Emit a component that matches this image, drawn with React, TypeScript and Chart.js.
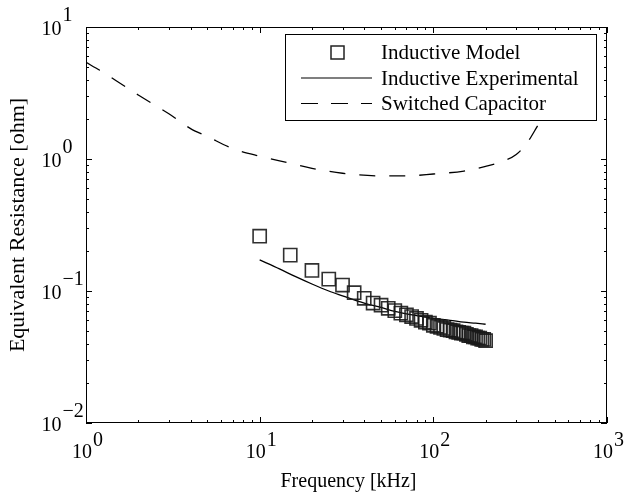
import React, { useEffect, useRef } from "react";
import { Chart, registerables } from "chart.js";

Chart.register(...registerables);

// Inductive Model (squares)
const modelFreq = [10, 15, 20, 25, 30, 35, 40, 45, 50, 55, 60, 65, 70, 75, 80, 85, 90, 95, 100, 105, 110, 115, 120, 125, 130, 135, 140, 145, 150, 155, 160, 165, 170, 175, 180, 185, 190, 195, 200];
const modelRes = [0.26, 0.187, 0.143, 0.123, 0.111, 0.097, 0.088, 0.081, 0.078, 0.074, 0.071, 0.068, 0.066, 0.064, 0.062, 0.060, 0.058, 0.057, 0.055, 0.054, 0.053, 0.052, 0.051, 0.0505, 0.050, 0.049, 0.0485, 0.048, 0.048, 0.047, 0.046, 0.046, 0.045, 0.045, 0.044, 0.044, 0.043, 0.043, 0.042];

// Inductive Experimental (solid line)
const expFreq = [10, 13, 16, 20, 25, 30, 40, 50, 60, 80, 100, 125, 150, 175, 200];
const expRes = [0.172, 0.147, 0.129, 0.113, 0.1, 0.092, 0.081, 0.075, 0.070, 0.065, 0.062, 0.060, 0.058, 0.057, 0.056];

// Switched Capacitor (dashed line)
const scFreq = [1, 1.2, 1.5, 2, 3, 4, 5, 7, 10, 15, 20, 30, 50, 70, 100, 150, 200, 250, 300, 350, 400];
const scRes = [5.4, 4.7, 3.9, 3.05, 2.2, 1.7, 1.48, 1.2, 1.05, 0.93, 0.85, 0.78, 0.745, 0.745, 0.77, 0.81, 0.88, 0.96, 1.08, 1.35, 1.8];

const seriesLabels = ["Inductive Model", "Inductive Experimental", "Switched Capacitor"];
const xMajorExp = [0, 1, 2, 3];
const yMajorExp = [-2, -1, 0, 1];
const xTitle = "Frequency [kHz]";
const yTitle = "Equivalent Resistance [ohm]";

const FONT = '"Liberation Serif", "Times New Roman", serif';

const axesPlugin = {
  id: "matlabAxes",
  afterDraw(chart: any) {
    const { ctx, chartArea, scales } = chart;
    const xs = scales.x;
    const ys = scales.y;
    const { left, right, top, bottom } = chartArea;
    ctx.save();
    ctx.strokeStyle = "#000";
    ctx.fillStyle = "#000";
    ctx.lineWidth = 1;
    // frame
    ctx.strokeRect(left + 0.5, top + 0.5, right - left - 1, bottom - top - 1);
    // ticks
    const major = 6;
    const minor = 3;
    ctx.beginPath();
    for (let e = 0; e <= 3; e++) {
      for (let m = 1; m <= 9; m++) {
        const v = m * Math.pow(10, e);
        if (v > 1000) continue;
        const px = Math.round(xs.getPixelForValue(v)) + 0.5;
        const len = m === 1 ? major : minor;
        ctx.moveTo(px, bottom);
        ctx.lineTo(px, bottom - len);
        ctx.moveTo(px, top);
        ctx.lineTo(px, top + len);
      }
    }
    for (let e = -2; e <= 1; e++) {
      for (let m = 1; m <= 9; m++) {
        const v = m * Math.pow(10, e);
        if (v > 10.0001) continue;
        const py = Math.round(ys.getPixelForValue(v)) + 0.5;
        const len = m === 1 ? major : minor;
        ctx.moveTo(left, py);
        ctx.lineTo(left + len, py);
        ctx.moveTo(right, py);
        ctx.lineTo(right - len, py);
      }
    }
    ctx.stroke();

    // tick labels
    const big = `20px ${FONT}`;
    ctx.font = big;
    ctx.textBaseline = "alphabetic";
    xMajorExp.forEach((e) => {
      const px = xs.getPixelForValue(Math.pow(10, e));
      const exp = String(e);
      const w1 = ctx.measureText("10").width;
      const w2 = ctx.measureText(exp).width;
      const start = px - (w1 + w2) / 2 + 1;
      ctx.textAlign = "left";
      ctx.fillText("10", start, bottom + 35);
      ctx.fillText(exp, start + w1 + 1, bottom + 23);
    });
    yMajorExp.forEach((e) => {
      const py = ys.getPixelForValue(Math.pow(10, e));
      ctx.textAlign = "right";
      ctx.fillText("10", left - 24.5, py + 7.5);
      ctx.textAlign = "left";
      ctx.fillText(e < 0 ? "\u2212" + String(-e) : String(e), left - 23.5, py - 6);
    });

    // axis titles
    ctx.font = `20px ${FONT}`;
    ctx.textAlign = "center";
    ctx.fillText(xTitle, (left + right) / 2 + 2, bottom + 64);
    ctx.save();
    ctx.font = `22px ${FONT}`;
    ctx.translate(24, (top + bottom) / 2);
    ctx.rotate(-Math.PI / 2);
    ctx.fillText(yTitle, 0, 0);
    ctx.restore();

    // legend
    const lx = 285.5, ly = 34.5, lw = 311, lh = 86;
    ctx.fillStyle = "#fff";
    ctx.fillRect(lx, ly, lw, lh);
    ctx.strokeStyle = "#000";
    ctx.lineWidth = 1;
    ctx.strokeRect(lx, ly, lw, lh);
    ctx.fillStyle = "#000";
    const rows = [52.5, 78, 103.5];
    const sx1 = 301, sx2 = 372, tx = 381;
    // square
    ctx.strokeStyle = "#222";
    ctx.lineWidth = 1.5;
    ctx.strokeRect(331, rows[0] - 6.5, 13, 13);
    // solid
    ctx.strokeStyle = "#000";
    ctx.lineWidth = 1.2;
    ctx.beginPath();
    ctx.moveTo(sx1, rows[1]);
    ctx.lineTo(sx2, rows[1]);
    ctx.stroke();
    // dashed
    ctx.setLineDash([17, 13]);
    ctx.beginPath();
    ctx.moveTo(sx1, rows[2]);
    ctx.lineTo(sx2, rows[2]);
    ctx.stroke();
    ctx.setLineDash([]);
    ctx.font = `21px ${FONT}`;
    ctx.textAlign = "left";
    ctx.textBaseline = "middle";
    seriesLabels.forEach((t, i) => ctx.fillText(t, tx, rows[i] + 1));
    ctx.restore();
  },
};

export default function App() {
  const ref = useRef<HTMLCanvasElement | null>(null);
  useEffect(() => {
    if (!ref.current) return;
    const chart = new Chart(ref.current, {
      type: "line",
      data: {
        datasets: [
          {
            label: seriesLabels[0],
            data: modelFreq.map((f, i) => ({ x: f, y: modelRes[i] })),
            showLine: false,
            pointStyle: "rect",
            pointRadius: 9.3,
            pointBorderWidth: 1.6,
            pointBorderColor: "rgba(25,25,25,0.9)",
            pointBackgroundColor: "rgba(0,0,0,0)",
          },
          {
            label: seriesLabels[1],
            data: expFreq.map((f, i) => ({ x: f, y: expRes[i] })),
            borderColor: "#000",
            borderWidth: 1.3,
            pointRadius: 0,
            cubicInterpolationMode: "monotone",
          },
          {
            label: seriesLabels[2],
            data: scFreq.map((f, i) => ({ x: f, y: scRes[i] })),
            borderColor: "#000",
            borderWidth: 1.3,
            borderDash: [16, 14],
            pointRadius: 0,
            cubicInterpolationMode: "monotone",
          },
        ],
      },
      options: {
        animation: false,
        responsive: false,
        maintainAspectRatio: false,
        layout: { padding: { left: 86, top: 27, right: 17, bottom: 70 } },
        plugins: { legend: { display: false }, tooltip: { enabled: false } },
        scales: {
          x: { type: "logarithmic", min: 1, max: 1000, display: false },
          y: { type: "logarithmic", min: 0.01, max: 10, display: false },
        },
      },
      plugins: [axesPlugin],
    } as any);
    return () => chart.destroy();
  }, []);
  return (
    <div style={{ position: "fixed", left: 0, top: 0, width: 624, height: 493, background: "#fff" }}>
      <canvas ref={ref} width={624} height={493} style={{ display: "block" }} />
    </div>
  );
}
